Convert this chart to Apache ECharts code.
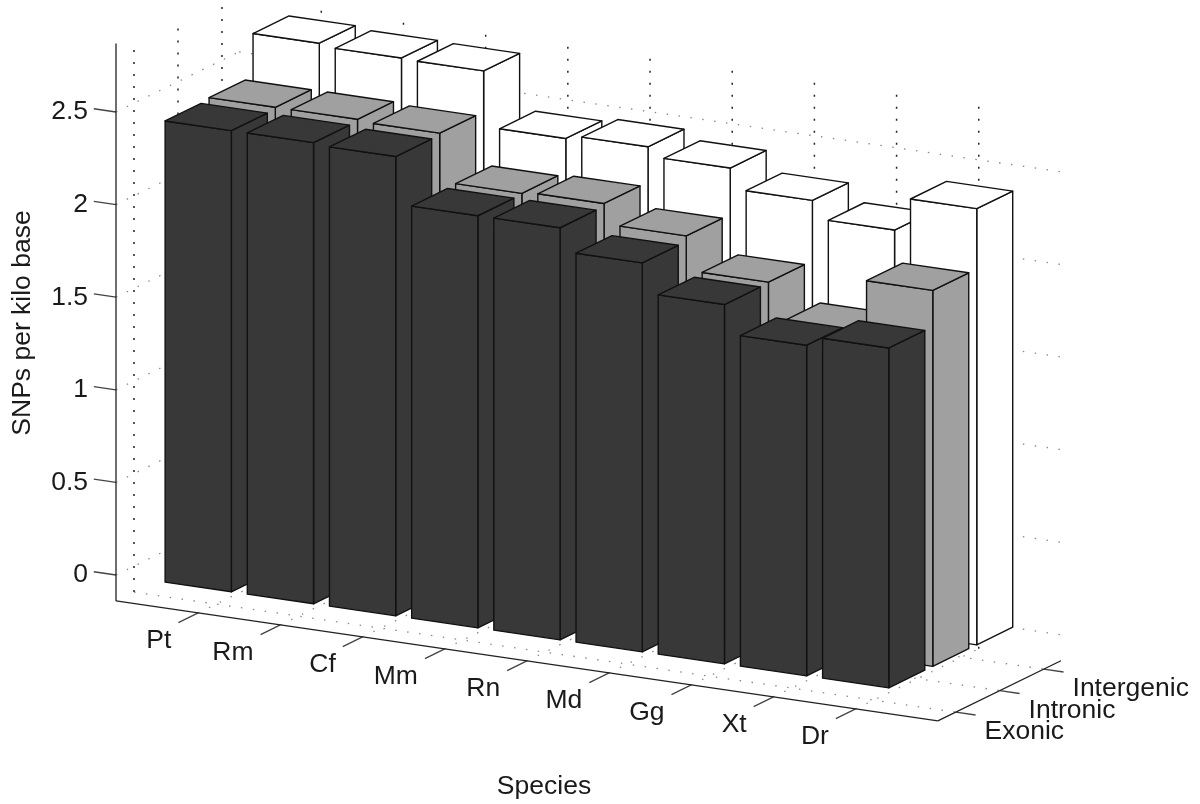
<!DOCTYPE html>
<html>
<head>
<meta charset="utf-8">
<style>html,body{margin:0;padding:0;background:#fff}#c{width:1200px;height:804px}</style>
<script src="https://cdn.jsdelivr.net/npm/echarts@6/dist/echarts.min.js"></script>
</head>
<body>
<div id="c"></div>
<script>
const species = ['Pt','Rm','Cf','Mm','Rn','Md','Gg','Xt','Dr'];
const regions = ['Exonic','Intronic','Intergenic'];
const exonic = [2.49,2.49,2.48,2.225,2.225,2.10,1.94,1.785,1.835];
const intronic = [2.50,2.50,2.49,2.23,2.24,2.13,1.945,1.75,2.03];
const intergenic = [2.73,2.715,2.71,2.41,2.43,2.38,2.27,2.175,2.355];
const zTicks = [0,0.5,1,1.5,2,2.5];
const faceColors = ['#383838','#a0a0a0','#ffffff'];
const font = '"Liberation Sans", Arial, sans-serif';

// oblique projection of (species position, region position, value) into the 2D axes
const DEPTH_X = 0.535, DEPTH_Z = 0.1161, SPECIES_Z = 0.0648, D0 = 0.41;
const I_MAX = 10, D_MAX = 2.39, Z_FLOOR = -0.14, Z_TOP = 2.81, Z_AXIS_TOP = 2.87;
const HW = 0.403, HD = 0.409;
function project(api, i, d, z) {
  return api.coord([i + (d + D0) * DEPTH_X, z - i * SPECIES_Z + (d + D0) * DEPTH_Z]);
}
function seg(a, b, style) {
  return {type:'line', silent:true, shape:{x1:a[0],y1:a[1],x2:b[0],y2:b[1]}, style:Object.assign({fill:null},style)};
}
function frameItem(params, api) {
  const P = (i,d,z) => project(api,i,d,z);
  const light = {stroke:'#8a8a8a', lineWidth:1.3, lineDash:[1.5,10.5]};
  const dark = {stroke:'#222', lineWidth:1.5, lineDash:[2,10]};
  const solid = {stroke:'#222', lineWidth:1.3};
  const tick = {stroke:'#444', lineWidth:1.3};
  const c = [];
  zTicks.forEach(z => {
    c.push(seg(P(0,-D0,z),P(0,D_MAX,z),light));
    c.push(seg(P(0,D_MAX,z),P(I_MAX,D_MAX,z),light));
    c.push(seg(P(-0.27,-D0,z),P(0,-D0,z),tick));
  });
  species.forEach((s,k) => {
    const i = k+1;
    c.push(seg(P(i,-D0,Z_FLOOR),P(i,D_MAX,Z_FLOOR),light));
    c.push(seg(P(i,D_MAX,Z_FLOOR),P(i,D_MAX,Z_TOP),dark));
    c.push(seg(P(i,-D0,Z_FLOOR),P(i,-D0-0.45,Z_FLOOR),tick));
  });
  regions.forEach((r,d) => {
    c.push(seg(P(0,d,Z_FLOOR),P(I_MAX,d,Z_FLOOR),light));
    c.push(seg(P(0,d,Z_FLOOR),P(0,d,Z_TOP),dark));
    c.push(seg(P(I_MAX,d,Z_FLOOR),P(I_MAX+0.24,d,Z_FLOOR),tick));
  });
  c.push(seg(P(0,-D0,Z_FLOOR),P(0,-D0,Z_AXIS_TOP),solid));
  c.push(seg(P(0,-D0,Z_FLOOR),P(I_MAX,-D0,Z_FLOOR),solid));
  c.push(seg(P(I_MAX,-D0,Z_FLOOR),P(I_MAX,D_MAX,Z_FLOOR),solid));
  return {type:'group', children:c};
}
function labelItem(params, api) {
  const P = (i,d,z) => project(api,i,d,z);
  const c = [];
  species.forEach((s,k) => {
    const p = P(k+1,-D0-0.45,Z_FLOOR);
    c.push({type:'text', silent:true, x:p[0]-7, y:p[1]+18, style:{text:s, font:'26.5px '+font, fill:'#1a1a1a', textAlign:'right', textVerticalAlign:'middle'}});
  });
  regions.forEach((r,d) => {
    const p = P(I_MAX+0.24,d,Z_FLOOR);
    c.push({type:'text', silent:true, x:p[0]+9, y:p[1]+17, style:{text:r, font:'26.5px '+font, fill:'#1a1a1a', textAlign:'left', textVerticalAlign:'middle'}});
  });
  return {type:'group', children:c};
}
function barItem(params, api) {
  const i = api.value(0), d = api.value(1), v = api.value(2);
  const P = (a,b,z) => project(api,a,b,z);
  const x0=i-HW,x1=i+HW,d0=d-HD,d1=d+HD;
  const st = {fill:faceColors[d], stroke:'#111', lineWidth:1.4, lineJoin:'round'};
  const poly = pts => ({type:'polygon', shape:{points:pts}, style:st});
  return {type:'group', children:[
    poly([P(x1,d0,0),P(x1,d1,0),P(x1,d1,v),P(x1,d0,v)]),
    poly([P(x0,d0,0),P(x1,d0,0),P(x1,d0,v),P(x0,d0,v)]),
    poly([P(x0,d0,v),P(x1,d0,v),P(x1,d1,v),P(x0,d1,v)])
  ]};
}
const rows = [exonic,intronic,intergenic];
const barSeries = [2,1,0].map(d => ({
  type:'custom', name:regions[d], z:3+(2-d), coordinateSystem:'cartesian2d', renderItem:barItem, clip:false,
  data: rows[d].map((v,k)=>[k+1,d,v])
}));
const chart = echarts.init(document.getElementById('c'), null, {renderer:'canvas'});
chart.setOption({
  animation:false,
  backgroundColor:'#fff',
  grid:{left:116, width:1084, top:19.4, height:740.8, containLabel:false},
  xAxis:{type:'value', min:0, max:13.19, show:false},
  yAxis:{type:'value', min:-1, max:3, interval:0.5, axisLine:{show:false}, axisTick:{show:false}, splitLine:{show:false},
    axisLabel:{margin:28, fontFamily:font, fontSize:26.5, color:'#1a1a1a', padding:[0,0,14,0],
      formatter:v => zTicks.includes(v) ? String(v) : ''}},
  graphic:[
    {type:'text', x:544, y:787, style:{text:'Species', font:'26.5px '+font, fill:'#1a1a1a', textAlign:'center', textVerticalAlign:'middle'}},
    {type:'text', x:23, y:323, rotation:Math.PI/2, style:{text:'SNPs per kilo base', font:'26.5px '+font, fill:'#1a1a1a', textAlign:'center', textVerticalAlign:'middle'}}
  ],
  series:[
    {type:'custom', name:'frame', z:1, renderItem:frameItem, clip:false, data:[[0,0]], silent:true},
    {type:'custom', name:'labels', z:2, renderItem:labelItem, clip:false, data:[[0,0]], silent:true}
  ].concat(barSeries)
});
</script>
</body>
</html>
